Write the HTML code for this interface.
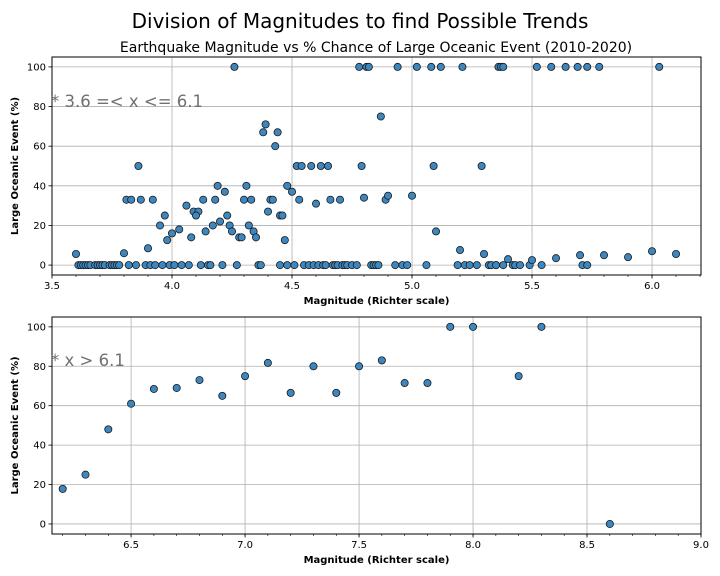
<!DOCTYPE html>
<html><head><meta charset="utf-8"><style>
body{margin:0;background:#fff;}
svg{display:block;font-family:"DejaVu Sans","Liberation Sans",sans-serif;}
</style></head><body>
<svg id="fig" width="720" height="576" viewBox="0 0 720 576">
<text x="360" y="28" text-anchor="middle" font-size="20">Division of Magnitudes to find Possible Trends</text>
<text x="376" y="52" text-anchor="middle" font-size="14">Earthquake Magnitude vs % Chance of Large Oceanic Event (2010-2020)</text>
<g id="top"></g>
<g id="bot"></g>
</svg>
<script>
// Top chart data (3.6 <= x <= 6.1)
const topMag = [3.61,3.62,3.63,3.64,3.65,3.66,3.68,3.69,3.70,3.71,3.72,3.74,3.75,3.76,3.77,3.78,
3.82,3.85,3.89,3.91,3.93,3.96,3.99,4.01,4.04,4.07,4.12,4.15,4.16,4.21,4.27,4.36,4.37,4.45,
3.60,3.80,3.81,3.83,3.86,3.87,3.92,3.90,3.95,3.97,3.98,4.00,4.03,4.06,4.08,4.09,4.11,4.10,4.13,4.14,4.17,4.18,4.19,4.20,4.22,4.23,4.24,4.25,4.26,4.28,4.29,4.30,4.31,4.32,4.33,4.34,4.35,4.38,4.39,4.40,4.41,4.42,4.43,4.44,4.45,
4.48,4.51,4.55,4.57,4.59,4.61,4.63,4.64,4.67,4.68,4.69,4.71,4.72,4.73,4.75,4.77,4.83,4.84,4.85,4.86,4.93,4.96,4.98,5.06,5.19,5.22,5.24,5.27,5.32,5.35,
4.46,4.47,4.48,4.50,4.52,4.54,4.53,4.58,4.60,4.62,4.65,4.66,4.70,4.78,4.79,4.80,4.81,4.82,4.87,4.89,4.90,4.94,5.00,5.02,5.08,5.09,5.10,5.12,5.20,5.21,5.29,5.30,
5.36,5.37,5.38,5.52,5.58,5.64,5.69,5.73,5.78,6.03,
5.33,5.35,5.38,5.42,5.43,5.45,5.49,5.54,5.71,5.73,
5.40,5.50,5.60,5.70,5.80,5.90,6.00,6.10];
const topPct = [0,0,0,0,0,0,0,0,0,0,0,0,0,0,0,0,
0,0,0,0,0,0,0,0,0,0,0,0,0,0,0,0,0,0,
5.6,6,33,33,50,33,33,8.5,20,25,12.6,16,18,30,14,27,27,25,33,17,20,33,40,22,37,25,20,17,100,14,14,33,40,20,33,17,14,67,71,27,33,33,60,67,25,
0,0,0,0,0,0,0,0,0,0,0,0,0,0,0,0,0,0,0,0,0,0,0,0,0,0,0,0,0,0,
25,12.6,40,37,50,50,33,50,31,50,50,33,33,100,50,34,100,100,75,33,35,100,35,100,100,50,17,100,7.6,100,50,5.6,
100,100,100,100,100,100,100,100,100,100,
0,0,0,0,0,0,0,0,0,0,
3,2.5,3.5,5,5,4,7,5.6];
const topXTicks = [3.5,4.0,4.5,5.0,5.5,6.0];
const topYTicks = [0,20,40,60,80,100];
// Bottom chart data (x > 6.1)
const botMag = [6.2,6.3,6.4,6.5,6.6,6.7,6.8,6.9,7.0,7.1,7.2,7.3,7.4,7.5,7.6,7.7,7.8,7.9,8.0,8.2,8.3,8.6];
const botPct = [17.8,25,48,61,68.5,69,73,65,75,81.7,66.5,80,66.5,80,83,71.5,71.5,100,100,75,100,0];
const botXTicks = [6.5,7.0,7.5,8.0,8.5,9.0];
const botYTicks = [0,20,40,60,80,100];

const NS="http://www.w3.org/2000/svg";
function mk(parent,tag,attrs){const e=document.createElementNS(NS,tag);for(const k in attrs)e.setAttribute(k,attrs[k]);parent.appendChild(e);return e;}

function chart(g,cfg){
  const {L,R,T,B,xmin,xmax,ymin,ymax,xs,ys,xt,yt,note,noteY,minorStart,minorEnd}=cfg;
  const sx=v=>L+(v-xmin)/(xmax-xmin)*(R-L);
  const sy=v=>B-(v-ymin)/(ymax-ymin)*(B-T);
  xt.forEach(v=>{const x=sx(v);if(x>L+0.5&&x<R-0.5){const l=mk(g,'line',{x1:x,x2:x,y1:T,y2:B,stroke:'#b0b0b0','stroke-width':0.8});
    
    }});
  yt.forEach(v=>{const y=sy(v);const l=mk(g,'line',{x1:L,x2:R,y1:y,y2:y,stroke:'#b0b0b0','stroke-width':0.8});
    
    });
  for(let m=minorStart;m<=minorEnd+1e-9;m+=0.1){const x=sx(m);if(x>=L&&x<=R)mk(g,'line',{x1:x,x2:x,y1:B,y2:B+2,stroke:'#000','stroke-width':0.6});}
  xt.forEach(v=>{const x=sx(v);mk(g,'line',{x1:x,x2:x,y1:B,y2:B+3.5,stroke:'#000','stroke-width':0.8});
    const t=mk(g,'text',{x:x,y:B+14,'text-anchor':'middle','font-size':10});t.textContent=v.toFixed(1);
    
    });
  yt.forEach(v=>{const y=sy(v);mk(g,'line',{x1:L-3.5,x2:L,y1:y,y2:y,stroke:'#000','stroke-width':0.8});
    const t=mk(g,'text',{x:L-6,y:y+3.5,'text-anchor':'end','font-size':10});t.textContent=v;
    
    });
  xs.forEach((v,i)=>{const c=mk(g,'circle',{cx:sx(v),cy:sy(ys[i]),r:3.6,fill:'#3d87c0',stroke:'#1a1a1a','stroke-width':0.8});
    
    });
  const f=mk(g,'rect',{x:L,y:T,width:R-L,height:B-T,fill:'none',stroke:'#000','stroke-width':1});
  
  
  const n=mk(g,'text',{x:L-1,y:noteY,'font-size':16.5,fill:'#707070'});n.textContent=note;
  
  
  const xl=mk(g,'text',{x:(L+R)/2,y:B+29,'text-anchor':'middle','font-size':10,'font-weight':'bold'});xl.textContent='Magnitude (Richter scale)';
  
  
  const cy=(T+B)/2;
  const yl=mk(g,'text',{x:18,y:cy,'text-anchor':'middle','font-size':10,'font-weight':'bold',transform:`rotate(-90 18 ${cy})`});yl.textContent='Large Oceanic Event (%)';
  
  
}
chart(document.getElementById('top'),{L:52,R:701,T:57,B:275,xmin:3.5,xmax:6.204,ymin:-5,ymax:105,xs:topMag,ys:topPct,xt:topXTicks,yt:topYTicks,note:'* 3.6 =< x <= 6.1',noteY:107,minorStart:3.5,minorEnd:6.2});
chart(document.getElementById('bot'),{L:52,R:701,T:317,B:534,xmin:6.153,xmax:9.0,ymin:-5.1,ymax:105,xs:botMag,ys:botPct,xt:botXTicks,yt:botYTicks,note:'* x > 6.1',noteY:366,minorStart:6.2,minorEnd:9.0});
</script>
</body></html>
